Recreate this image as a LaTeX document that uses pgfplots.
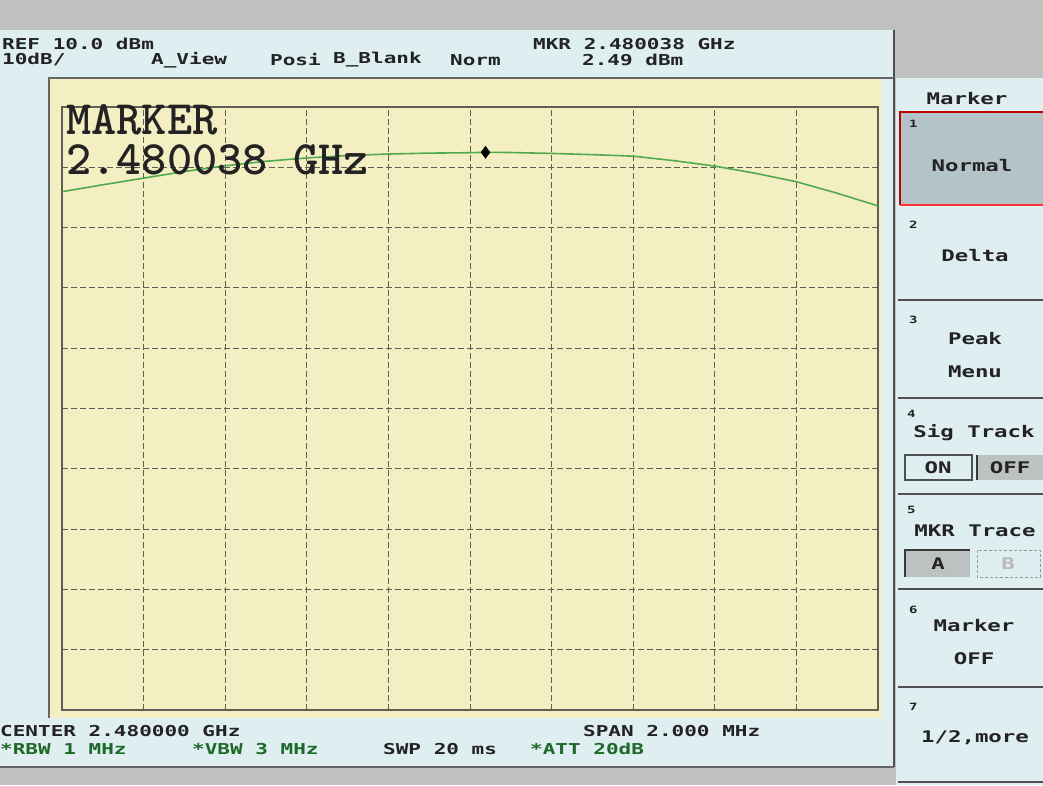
\documentclass[border=0pt]{standalone}
\usepackage{fontspec}
\usepackage{pgfplots}
\pgfplotsset{compat=1.18}
\newfontfamily\inst{DejaVu Sans Mono}[FakeStretch=1.4]

\definecolor{bggray}{RGB}{192,192,192}
\definecolor{panel}{RGB}{223,238,241}
\definecolor{scr}{RGB}{243,239,194}
\definecolor{gridc}{RGB}{95,95,85}
\definecolor{trace}{RGB}{80,170,80}
\definecolor{keysel}{RGB}{180,195,199}
\definecolor{txtgreen}{RGB}{28,105,40}
\definecolor{ink}{RGB}{35,35,35}

\begin{document}
\begin{tikzpicture}
\useasboundingbox (0,0) rectangle (1043pt,785pt);
% screen background, coordinates in pixels from the top left
\begin{scope}[yshift=785pt, x=1pt, y=-1pt]
  \fill[bggray] (0,0) rectangle (1043,785);
  \fill[panel] (0,30) rectangle (894,767);
  \fill[panel] (896,78) rectangle (1043,785);
  \draw[ink!80, line width=2pt] (894,30) -- (894,767);
  \draw[ink!70, line width=1.5pt] (0,767) -- (894,767);
  \fill[scr] (49,78) rectangle (882,718);
  \draw[ink!70, line width=1.5pt] (49,718) -- (49,78) -- (894,78);
\end{scope}

\begin{axis}[
  at={(62pt,75pt)}, anchor=south west,
  width=816pt, height=603pt, scale only axis,
  xmin=2479, xmax=2481, ymin=-90, ymax=10,
  xtick={2479,2479.2,2479.4,2479.6,2479.8,2480,2480.2,2480.4,2480.6,2480.8,2481},
  ytick={-90,-80,-70,-60,-50,-40,-30,-20,-10,0,10},
  xticklabels={}, yticklabels={},
  major tick length=0pt,
  grid=major,
  grid style={gridc, line width=0.9pt, dash pattern=on 6pt off 3pt},
  axis line style={gridc, line width=1.8pt},
  axis background/.style={fill=scr},
]
\addplot[trace, line width=1.6pt] coordinates {
  (2479.0,-4.05) (2479.1,-2.9) (2479.2,-1.8) (2479.3,-0.7) (2479.4,0.25)
  (2479.5,1.0) (2479.6,1.55) (2479.7,1.95) (2479.8,2.2) (2479.9,2.35)
  (2480.0,2.42) (2480.038,2.49) (2480.1,2.45) (2480.2,2.3) (2480.3,2.1)
  (2480.4,1.85) (2480.5,1.1) (2480.6,0.2) (2480.7,-1.0) (2480.8,-2.4)
  (2480.9,-4.3) (2481.0,-6.4)
};
\addplot[only marks, mark=diamond*, mark size=6pt, black] coordinates {(2480.038,2.49)};
\end{axis}

\begin{scope}[yshift=785pt, x=1pt, y=-1pt, every node/.style={inner sep=0pt, anchor=west}]
  % marker readout inside the graticule
  \node[text=ink] at (66,120) {\ttfamily\bfseries\fontsize{48}{48}\selectfont MARKER};
  \node[text=ink] at (66,160) {\ttfamily\bfseries\fontsize{48}{48}\selectfont 2.480038 GHz};
  % header
  \begin{scope}[every node/.append style={text=ink, font=\inst\bfseries\fontsize{15}{15}\selectfont}]
    \node at (2,44) {REF 10.0 dBm};
    \node at (2,60) {10dB/};
    \node at (151,60) {A\_View};
    \node at (270,60) {Posi};
    \node at (333,60) {B\_Blank};
    \node at (450,60) {Norm};
    \node at (533,44) {MKR 2.480038 GHz};
    \node at (582,60) {2.49 dBm};
    % footer
    \node at (0,731) {CENTER 2.480000 GHz};
    \node at (583,731) {SPAN 2.000 MHz};
    \node[text=txtgreen] at (0,749) {*RBW 1 MHz};
    \node[text=txtgreen] at (192,749) {*VBW 3 MHz};
    \node at (383,749) {SWP 20 ms};
    \node[text=txtgreen] at (530,749) {*ATT 20dB};
  \end{scope}
  % soft keys
  \fill[keysel] (900,112) rectangle (1043,205);
  \draw[red!75!black, line width=2pt] (900,205) -- (900,112) -- (1043,112);
  \draw[red!80, line width=1.5pt] (900,205) -- (1043,205);
  \foreach \yy in {300,398,494,589,687,782}
    \draw[ink!80, line width=2.5pt] (898,\yy) -- (1043,\yy);
  \fill[bggray!85!keysel] (977,455) rectangle (1043,480);
  \draw[ink!80, line width=1.2pt] (905,455) rectangle (972,480);
  \draw[ink!90, line width=2pt] (977,455) -- (977,480);
  \fill[bggray!85!keysel] (905,550) rectangle (970,577);
  \draw[ink!90, line width=2pt] (905,577) -- (905,550) -- (970,550);
  \draw[gray!80, line width=1pt, densely dashed] (977,550) rectangle (1040,577);
  \begin{scope}[every node/.append style={text=ink, font=\inst\bfseries\fontsize{16}{16}\selectfont}]
    \node[anchor=center] at (967,99) {Marker};
    \node[font=\inst\bfseries\fontsize{10}{10}\selectfont] at (909,124) {1};
    \node[anchor=center] at (972,166) {Normal};
    \node[font=\inst\bfseries\fontsize{10}{10}\selectfont] at (909,225) {2};
    \node[anchor=center] at (975,256) {Delta};
    \node[font=\inst\bfseries\fontsize{10}{10}\selectfont] at (909,320) {3};
    \node[anchor=center] at (975,339) {Peak};
    \node[anchor=center] at (975,372) {Menu};
    \node[font=\inst\bfseries\fontsize{10}{10}\selectfont] at (907,414) {4};
    \node[anchor=center] at (974,433) {Sig Track};
    \node[anchor=center] at (938,468) {ON};
    \node[anchor=center] at (1010,468) {OFF};
    \node[font=\inst\bfseries\fontsize{10}{10}\selectfont] at (907,510) {5};
    \node[anchor=center] at (975,531) {MKR Trace};
    \node[anchor=center] at (938,564) {A};
    \node[anchor=center, text=gray!55] at (1008,564) {B};
    \node[font=\inst\bfseries\fontsize{10}{10}\selectfont] at (909,610) {6};
    \node[anchor=center] at (974,626) {Marker};
    \node[anchor=center] at (974,659) {OFF};
    \node[font=\inst\bfseries\fontsize{10}{10}\selectfont] at (909,707) {7};
    \node[anchor=center] at (975,738) {1/2,more};
  \end{scope}
\end{scope}
\end{tikzpicture}
\end{document}
